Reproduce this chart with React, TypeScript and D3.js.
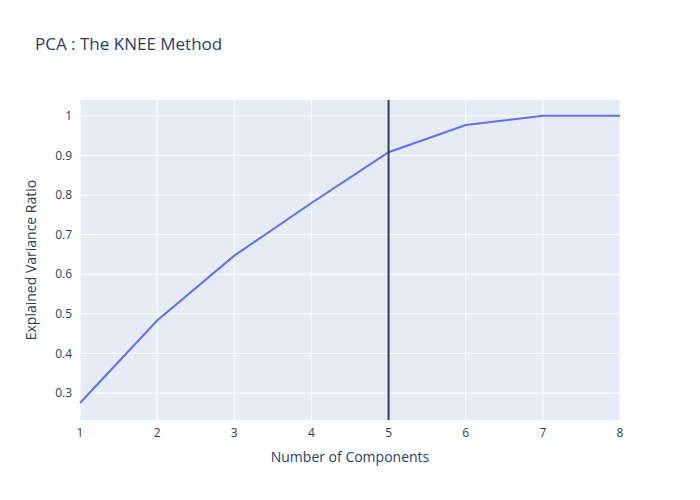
import * as d3 from 'd3'

const components = [1, 2, 3, 4, 5, 6, 7, 8]
const variance = [0.275, 0.483, 0.647, 0.78, 0.908, 0.977, 1, 1]
const yTicks = [0.3, 0.4, 0.5, 0.6, 0.7, 0.8, 0.9, 1]
const kneeAt = 5

export default function App() {
  const width = 700
  const height = 500
  const margin = { top: 100, right: 80, bottom: 80, left: 80 }
  const innerW = width - margin.left - margin.right
  const innerH = height - margin.top - margin.bottom

  const x = d3.scaleLinear().domain([1, 8]).range([0, innerW])
  const y = d3.scaleLinear().domain([0.232, 1.04]).range([innerH, 0])

  const line = d3.line<number>()
    .x((_, i) => x(components[i]))
    .y(d => y(d))

  const font = '"Open Sans", verdana, arial, sans-serif'
  const textColor = '#2a3f5f'

  return (
    <svg width={width} height={height} style={{ position: 'absolute', left: 0, top: 0, fontFamily: font }}>
      <rect width={width} height={height} fill="#fff" />
      <text x={35} y={50} fontSize={17} fill={textColor}>PCA : The KNEE Method</text>
      <g transform={`translate(${margin.left},${margin.top})`}>
        <rect width={innerW} height={innerH} fill="#e5ecf6" />
        {components.map(c => (
          <line key={'gx' + c} x1={x(c)} x2={x(c)} y1={0} y2={innerH} stroke="#fff" strokeWidth={1} />
        ))}
        {yTicks.map(t => (
          <line key={'gy' + t} x1={0} x2={innerW} y1={y(t)} y2={y(t)} stroke="#fff" strokeWidth={1} />
        ))}
        <path d={line(variance) ?? ''} fill="none" stroke="#636efa" strokeWidth={2} />
        <line x1={x(kneeAt)} x2={x(kneeAt)} y1={0} y2={innerH} stroke="#2a3f5f" strokeWidth={2} />
        {components.map(c => (
          <text key={'tx' + c} x={x(c)} y={innerH + 17} fontSize={12} fill={textColor} textAnchor="middle">{c}</text>
        ))}
        {yTicks.map(t => (
          <text key={'ty' + t} x={-8} y={y(t)} dy="0.35em" fontSize={12} fill={textColor} textAnchor="end">{t}</text>
        ))}
        <text x={innerW / 2} y={innerH + 42} fontSize={14} fill={textColor} textAnchor="middle">Number of Components</text>
        <text transform={`translate(-44,${innerH / 2}) rotate(-90)`} fontSize={14} fill={textColor} textAnchor="middle">Explained Variance Ratio</text>
      </g>
    </svg>
  )
}
